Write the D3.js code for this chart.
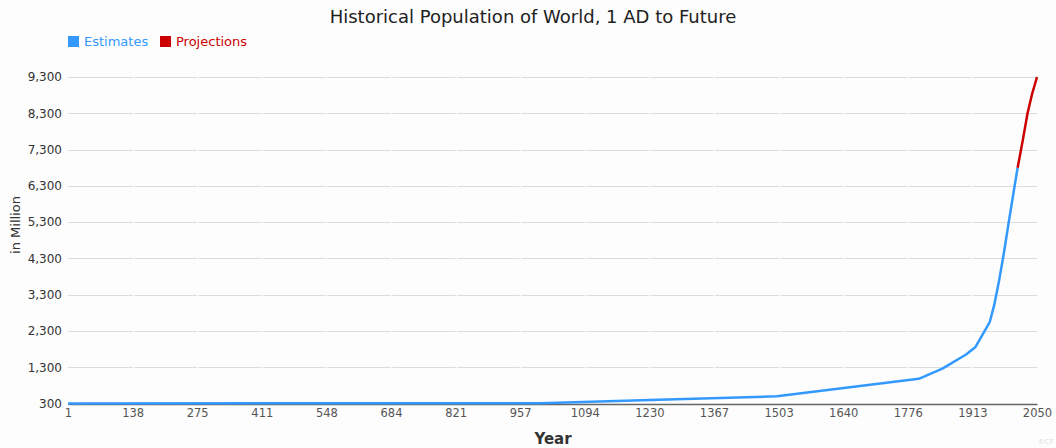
<!DOCTYPE html>
<html>
<head>
<meta charset="utf-8">
<script src="https://cdn.jsdelivr.net/npm/d3@7/dist/d3.min.js"></script>
<style>
  html, body { margin: 0; padding: 0; background: #fdfdfd; }
  svg { display: block; font-family: "DejaVu Sans", Verdana, sans-serif; }
</style>
</head>
<body>
<svg id="chart" width="1056" height="448"></svg>
<script>
// ---- data ----
const estimateYears  = [1, 1000, 1250, 1500, 1800, 1850, 1900, 1920, 1950, 1960, 1970, 1980, 1990, 2000, 2009];
const estimateValues = [300, 310, 400, 500, 980, 1260, 1650, 1860, 2540, 3040, 3700, 4450, 5280, 6080, 6800];
const projectionYears  = [2009, 2020, 2030, 2040, 2050];
const projectionValues = [6800, 7560, 8300, 8850, 9300];
const xTickLabels = ["1","138","275","411","548","684","821","957","1094","1230","1367","1503","1640","1776","1913","2050"];
const yTickValues = [300, 1300, 2300, 3300, 4300, 5300, 6300, 7300, 8300, 9300];
const seriesNames = ["Estimates", "Projections"];
const seriesColors = ["#3399ff", "#cc0000"];
const titleText = "Historical Population of World, 1 AD to Future";
const xTitle = "Year";
const yTitle = "in Million";

// ---- layout ----
const svg = d3.select("#chart");
const mLeft = 68, mRight = 1037, mTop = 77, mBottom = 403.5;

const x = d3.scaleLinear().domain([1, 2050]).range([mLeft, mRight]);
const y = d3.scaleLinear().domain([300, 9300]).range([mBottom, mTop]);

// horizontal grid
svg.append("g")
  .selectAll("line").data(yTickValues.slice(1)).join("line")
  .attr("x1", mLeft).attr("x2", mRight)
  .attr("y1", d => Math.round(y(d)) + 0.5).attr("y2", d => Math.round(y(d)) + 0.5)
  .attr("stroke", "#dcdcdc").attr("stroke-width", 1);

// x tick positions (evenly spaced across domain)
const xTickVals = xTickLabels.map((d, i) => 1 + i * (2049 / (xTickLabels.length - 1)));

// faint vertical separators (white) at tick positions
svg.append("g")
  .selectAll("line").data(xTickVals.slice(1, -1)).join("line")
  .attr("x1", d => Math.round(x(d)) + 0.5).attr("x2", d => Math.round(x(d)) + 0.5)
  .attr("y1", mTop - 2).attr("y2", mBottom - 1)
  .attr("stroke", "#fdfdfd").attr("stroke-width", 1.5);

// y axis labels
const yAxis = d3.axisLeft(y).tickValues(yTickValues).tickSize(0).tickPadding(6)
  .tickFormat(d3.format(","));
const gy = svg.append("g").attr("transform", `translate(${mLeft},0)`).call(yAxis);
gy.select(".domain").remove();
gy.selectAll("text").attr("font-size", 12).attr("fill", "#333")
  .attr("font-family", "DejaVu Sans, Verdana, sans-serif");

// x axis
const xAxis = d3.axisBottom(x).tickValues(xTickVals).tickSize(0).tickPadding(5)
  .tickFormat((d, i) => xTickLabels[i]);
const gx = svg.append("g").attr("transform", `translate(0,${Math.round(mBottom)})`).call(xAxis);
gx.select(".domain").attr("stroke", "#666").attr("stroke-width", 1.5);
gx.selectAll("text").attr("font-size", 11.5).attr("fill", "#555")
  .attr("font-family", "DejaVu Sans, Verdana, sans-serif");

// lines
const line = d3.line().x(d => x(d[0])).y(d => y(d[1]));
svg.append("path")
  .datum(estimateYears.map((d, i) => [d, estimateValues[i]]))
  .attr("d", line).attr("fill", "none")
  .attr("stroke", seriesColors[0]).attr("stroke-width", 2.5).attr("stroke-linejoin", "round");
svg.append("path")
  .datum(projectionYears.map((d, i) => [d, projectionValues[i]]))
  .attr("d", line).attr("fill", "none")
  .attr("stroke", seriesColors[1]).attr("stroke-width", 2.5).attr("stroke-linejoin", "round");

// title
svg.append("text").attr("x", 533).attr("y", 23).attr("text-anchor", "middle")
  .attr("font-size", 18).attr("fill", "#222").text(titleText);

// legend
const legendX = [68, 160];
seriesNames.forEach((n, i) => {
  svg.append("rect").attr("x", legendX[i]).attr("y", 36).attr("width", 11).attr("height", 11)
    .attr("fill", seriesColors[i]);
  svg.append("text").attr("x", legendX[i] + 16).attr("y", 46)
    .attr("font-size", 13).attr("fill", seriesColors[i]).text(n);
});

// axis titles
svg.append("text").attr("x", 553).attr("y", 444).attr("text-anchor", "middle")
  .attr("font-size", 15).attr("font-weight", "bold").attr("fill", "#333").text(xTitle);
svg.append("text").attr("transform", "translate(20,225) rotate(-90)").attr("text-anchor", "middle")
  .attr("font-size", 13).attr("fill", "#333").text(yTitle);

// watermark
svg.append("text").attr("x", 1054).attr("y", 444).attr("text-anchor", "end")
  .attr("font-size", 7).attr("fill", "#dddddd").text("©CF");
</script>
</body>
</html>
